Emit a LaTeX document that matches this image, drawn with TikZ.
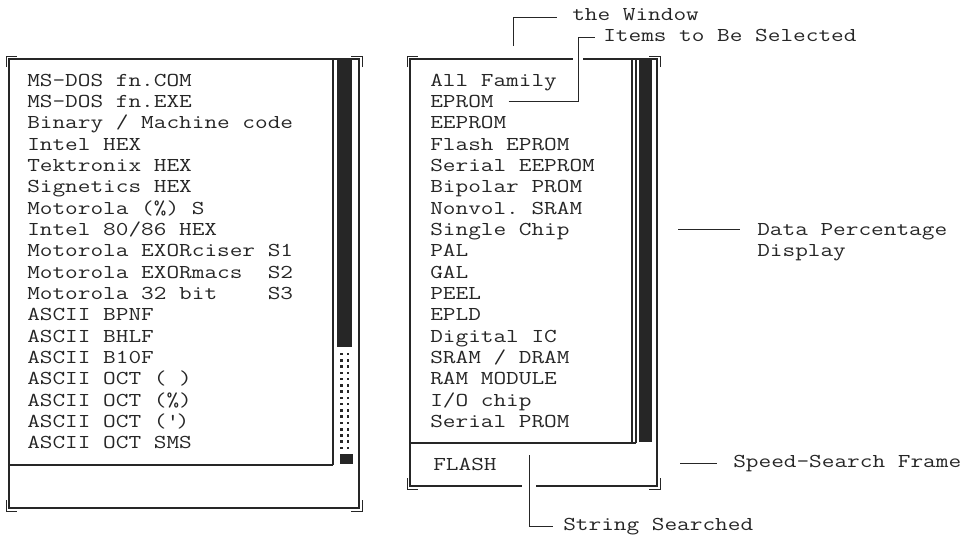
\documentclass[tikz,border=0pt]{standalone}
\usepackage{fontspec}
\setmonofont{Latin Modern Mono}[FakeStretch=1.25]
\definecolor{ink}{HTML}{262626}
\usetikzlibrary{calc}

\begin{document}
\begin{tikzpicture}[x=0.75pt, y=-0.75pt,
  every node/.style={font=\ttfamily\fontsize{14.75}{16}\selectfont, text=ink, inner sep=0pt},
  item/.style={anchor=base west},
  lbl/.style={anchor=west, text height=0.6em, text depth=0pt},
  frm/.style={draw=ink, line width=0.9pt},
  lead/.style={draw=ink, line width=0.6pt},
  gap/.style={preaction={draw=white, line width=#1}}
]
  \useasboundingbox (0,0) rectangle (969,539);

  % left window: file formats
  \draw[frm] (9,59) rectangle (359,508);
  \draw[frm] (9,465) -- (333,465);
  \draw[frm] (333,59) -- (333,465);
  \fill[ink] (337,59) rectangle (352,347);
  \foreach \r in {0,...,15}
    \foreach \c in {341.5,348}
      \fill[ink] (\c-1.3,354+\r*6.27-1.3) rectangle ++(2.6,2.6);
  \fill[ink] (340,454) rectangle (353,464);
  \foreach \t [count=\i] in {{MS-DOS fn.COM}, {MS-DOS fn.EXE}, {Binary / Machine code},
      {Intel HEX}, {Tektronix HEX}, {Signetics HEX}, {Motorola (\%) S}, {Intel 80/86 HEX},
      {Motorola EXORciser S1}, {Motorola EXORmacs\ \ S2}, {Motorola 32 bit\ \ \ \ S3},
      {ASCII BPNF}, {ASCII BHLF}, {ASCII B10F}, {ASCII OCT (\ )}, {ASCII OCT (\%)},
      {ASCII OCT (\textquotesingle)}, {ASCII OCT SMS}}
    \node[item] (fmt\i) at (27,86+\i*21.35-21.35) {\t};

  % right window: device families
  \draw[frm] (410,59) rectangle (657,486);
  \draw[frm] (410,443) -- (636,443);
  \draw[frm] (632,59) -- (632,443) (636,59) -- (636,443);
  \fill[ink] (639,59) rectangle (652,442);
  \foreach \t [count=\i] in {{All Family}, {EPROM}, {EEPROM}, {Flash EPROM}, {Serial EEPROM},
      {Bipolar PROM}, {Nonvol. SRAM}, {Single Chip}, {PAL}, {GAL}, {PEEL}, {EPLD},
      {Digital IC}, {SRAM / DRAM}, {RAM MODULE}, {I/O chip}, {Serial PROM}}
    \node[item] (fam\i) at (430,86+\i*21.35-21.35) {\t};
  \node[item] (srch) at (433,470) {FLASH};

  % corner marks
  \foreach \cx/\cy/\dx/\dy in {9/59/1/1, 359/59/-1/1, 9/508/1/-1, 359/508/-1/-1,
                              410/59/1/1, 657/59/-1/1, 410/486/1/-1, 657/486/-1/-1}
    \draw[ink, line width=0.7pt] (\cx-3*\dx,\cy+8*\dy) -- (\cx-3*\dx,\cy-3*\dy) -- (\cx+8*\dx,\cy-3*\dy);

  % callouts
  \node[lbl] (win) at (572,17) {the Window};
  \coordinate (wintick) at (513,46);
  \draw[lead, shorten >=11pt] (wintick) |- (win.west);

  \node[lbl] (items) at (603,37) {Items to Be Selected};
  \coordinate (itbend) at (578,0);
  \draw[lead, gap=8pt, shorten <=11pt, shorten >=6pt]
    (fam2.east) -- (fam2.east -| itbend) |- (items.west);

  \node[anchor=north west, align=left] (dpd) at (757,223) {Data Percentage\\Display};
  \coordinate (dpdtick) at (678,229);
  \draw[lead, shorten >=12.75pt] (dpdtick) -- (dpdtick -| dpd.west);

  \node[lbl] (ssf) at (733,463) {Speed-Search Frame};
  \coordinate (ssftick) at (680,463);
  \draw[lead, shorten >=12pt] (ssftick) -- (ssf.west);

  \node[lbl] (strs) at (563,526) {String Searched};
  \coordinate (strtick) at (529,455);
  \draw[lead, gap=10pt, shorten >=7.5pt] (strtick) |- (strs.west);
\end{tikzpicture}
\end{document}
